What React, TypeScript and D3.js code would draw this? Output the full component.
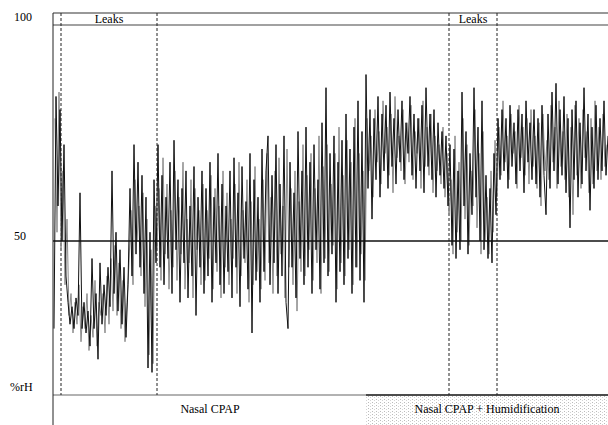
import React, { useRef, useEffect } from 'react';
import { select, scaleLinear, line } from 'd3';

// relative humidity samples (%rH), dark trace, one every ~2 px of the record
const humidity = [
  30, 83, 58, 80, 50, 72, 42, 36, 31, 35, 30, 37, 33, 61, 30, 36, 29, 34, 26, 46,
  30, 38, 23, 45, 31, 40, 33, 44, 35, 66, 38, 52, 34, 48, 31, 44, 28, 40, 62, 42,
  72, 47, 68, 44, 65, 38, 60, 21, 52, 20, 64, 45, 72, 44, 65, 40, 60, 46, 68, 38,
  73, 48, 64, 36, 62, 45, 66, 37, 58, 42, 67, 33, 60, 44, 66, 38, 62, 42, 68, 36,
  60, 45, 70, 40, 63, 38, 58, 43, 66, 37, 69, 44, 61, 35, 67, 46, 59, 39, 70, 29,
  64, 41, 60, 36, 71, 43, 66, 74, 40, 65, 45, 72, 38, 63, 42, 74, 36, 30, 68, 44,
  61, 37, 75, 46, 66, 40, 76, 44, 68, 38, 72, 48, 64, 39, 77, 45, 85, 42, 70, 47,
  74, 36, 68, 43, 73, 40, 79, 46, 71, 38, 76, 44, 82, 41, 75, 36, 88, 62, 80, 55,
  78, 64, 83, 60, 79, 66, 81, 62, 84, 67, 78, 63, 80, 68, 82, 64, 77, 70, 83, 65,
  79, 62, 78, 66, 81, 61, 85, 67, 79, 64, 80, 60, 77, 65, 75, 62, 74, 58, 72, 49,
  71, 46, 66, 48, 84, 58, 75, 47, 70, 56, 85, 60, 76, 50, 82, 48, 65, 46, 62, 45,
  70, 56, 78, 64, 80, 66, 78, 62, 81, 67, 77, 63, 80, 66, 79, 61, 82, 68, 77, 64,
  80, 63, 78, 60, 81, 65, 56, 79, 62, 84, 66, 86, 63, 80, 65, 83, 61, 78, 53, 80,
  64, 82, 60, 77, 63, 85, 66, 79, 57, 76, 62, 81, 64, 78, 66, 82, 65, 74,
];

// lighter (grey) trace, sampled half a step later
const humidityGrey = [
  78, 52, 84, 48, 66, 40, 55, 33, 38, 29, 36, 31, 40, 27, 35, 30, 38, 25, 33, 28,
  41, 26, 36, 33, 38, 29, 42, 31, 46, 34, 49, 33, 45, 30, 41, 27, 36, 45, 57, 40,
  64, 50, 58, 42, 61, 35, 55, 24, 48, 22, 58, 48, 62, 41, 69, 47, 63, 39, 57, 44,
  66, 41, 60, 47, 68, 39, 55, 45, 64, 37, 62, 48, 57, 40, 63, 41, 57, 46, 65, 39,
  62, 43, 58, 37, 66, 44, 61, 40, 55, 46, 63, 38, 68, 42, 57, 45, 64, 36, 59, 40,
  67, 43, 55, 39, 64, 41, 70, 45, 60, 38, 66, 42, 69, 47, 58, 37, 71, 44, 62, 40,
  66, 34, 59, 43, 72, 42, 65, 48, 70, 41, 62, 45, 74, 38, 67, 46, 72, 43, 63, 49,
  70, 39, 76, 45, 65, 42, 73, 48, 68, 40, 78, 44, 70, 47, 66, 41, 78, 66, 74, 60,
  80, 68, 75, 63, 82, 70, 76, 65, 79, 61, 83, 69, 74, 66, 80, 63, 77, 68, 81, 64,
  75, 70, 78, 62, 82, 67, 76, 65, 79, 61, 74, 66, 72, 63, 76, 60, 70, 56, 64, 47,
  74, 52, 68, 50, 78, 55, 72, 49, 66, 58, 80, 53, 70, 47, 75, 50, 60, 47, 66, 52,
  73, 60, 76, 65, 82, 68, 74, 64, 79, 70, 75, 62, 81, 69, 76, 65, 78, 63, 80, 67,
  74, 62, 77, 58, 79, 66, 73, 64, 81, 68, 76, 62, 82, 67, 75, 64, 79, 60, 76, 56,
  81, 65, 78, 62, 80, 69, 75, 61, 78, 63, 82, 66, 76, 64, 79, 67, 72,
];

// recording phases (sample index)
const phaseNames = ['Nasal CPAP', 'Nasal CPAP + Humidification'];
const phaseStarts = [0, 156];
const phaseEnds = [156, 277];

// mask leak episodes (sample index)
const leakStarts = [3.5, 197.5];
const leakEnds = [51.5, 221.5];

const yTicks = [100, 50];

const W = 608;
const H = 425;
const serif = '"Liberation Serif", "DejaVu Serif", serif';

function App() {
  const svgRef = useRef<SVGSVGElement>(null);

  useEffect(() => {
    const svg = select(svgRef.current);
    svg.selectAll('*').remove();

    const left = 53;
    const top = 13;
    const bandBottom = 25;
    const plotBottom = 395;

    const x = scaleLinear()
      .domain([0, humidity.length - 1])
      .range([left + 1, W]);
    const y = scaleLinear().domain([0, 100]).range([460, 22]);

    // stipple pattern for the humidification box
    const defs = svg.append('defs');
    const pat = defs
      .append('pattern')
      .attr('id', 'stip')
      .attr('width', 4)
      .attr('height', 3)
      .attr('patternUnits', 'userSpaceOnUse');
    pat.append('rect').attr('x', 0).attr('y', 0).attr('width', 1).attr('height', 1).attr('fill', '#bbb');
    pat.append('rect').attr('x', 2).attr('y', 1).attr('width', 1).attr('height', 1).attr('fill', '#d4d4d4');

    // phase boxes along the bottom
    phaseNames.forEach((name, i) => {
      const x0 = x(phaseStarts[i]);
      const x1 = i === phaseNames.length - 1 ? W : x(phaseEnds[i]);
      if (i === 1) {
        svg
          .append('rect')
          .attr('x', x0)
          .attr('y', plotBottom)
          .attr('width', x1 - x0)
          .attr('height', H - plotBottom)
          .attr('fill', 'url(#stip)');
      }
      svg
        .append('line')
        .attr('x1', i === 0 ? left : x0)
        .attr('x2', x1)
        .attr('y1', plotBottom)
        .attr('y2', plotBottom)
        .attr('stroke', i === 0 ? '#999' : '#111')
        .attr('stroke-width', 1.5);
      svg
        .append('text')
        .attr('x', (x0 + x1) / 2)
        .attr('y', 413)
        .attr('text-anchor', 'middle')
        .style('font-family', serif)
        .style('font-size', '12px')
        .attr('fill', '#000')
        .text(name);
    });

    // top band
    svg.append('line').attr('x1', left).attr('x2', W).attr('y1', top).attr('y2', top)
      .attr('stroke', '#333').attr('stroke-width', 1.2);
    svg.append('line').attr('x1', left).attr('x2', W).attr('y1', bandBottom).attr('y2', bandBottom)
      .attr('stroke', '#444').attr('stroke-width', 1.2);

    // leak markers
    leakStarts.forEach((s, i) => {
      [s, leakEnds[i]].forEach(v => {
        svg
          .append('line')
          .attr('x1', x(v))
          .attr('x2', x(v))
          .attr('y1', top)
          .attr('y2', plotBottom)
          .attr('stroke', '#222')
          .attr('stroke-width', 1)
          .attr('stroke-dasharray', '3,2');
      });
      svg
        .append('text')
        .attr('x', (x(s) + x(leakEnds[i])) / 2)
        .attr('y', 23)
        .attr('text-anchor', 'middle')
        .style('font-family', serif)
        .style('font-size', '12px')
        .text('Leaks');
    });

    // signal: grey trace underneath, dark trace on top
    const greyPath = line<number>()
      .x((d, i) => x(i + 0.5))
      .y(d => y(d));
    svg
      .append('path')
      .datum(humidityGrey)
      .attr('d', greyPath)
      .attr('fill', 'none')
      .attr('stroke', '#8a8a8a')
      .attr('stroke-width', 1);

    const path = line<number>()
      .x((d, i) => x(i))
      .y(d => y(d));
    svg
      .append('path')
      .datum(humidity)
      .attr('d', path)
      .attr('fill', 'none')
      .attr('stroke', '#111')
      .attr('stroke-width', 1);

    // 50 % reference line
    svg.append('line').attr('x1', left).attr('x2', W).attr('y1', y(50)).attr('y2', y(50))
      .attr('stroke', '#111').attr('stroke-width', 1.3);

    // y axis
    svg.append('line').attr('x1', left).attr('x2', left).attr('y1', top).attr('y2', H)
      .attr('stroke', '#222').attr('stroke-width', 1);
    yTicks.forEach(t => {
      svg
        .append('text')
        .attr('x', t === 100 ? 32 : 26)
        .attr('y', y(t) - 4)
        .attr('text-anchor', 'end')
        .attr('dominant-baseline', 'middle')
        .style('font-family', serif)
        .style('font-size', '12px')
        .text(t);
    });
    svg
      .append('text')
      .attr('x', 10)
      .attr('y', 391)
      .style('font-family', serif)
      .style('font-size', '12px')
      .text('%rH');
  }, []);

  return (
    <svg
      ref={svgRef}
      width={W}
      height={H}
      style={{ position: 'absolute', left: 0, top: 0, background: '#fff' }}
    />
  );
}

export default App;
